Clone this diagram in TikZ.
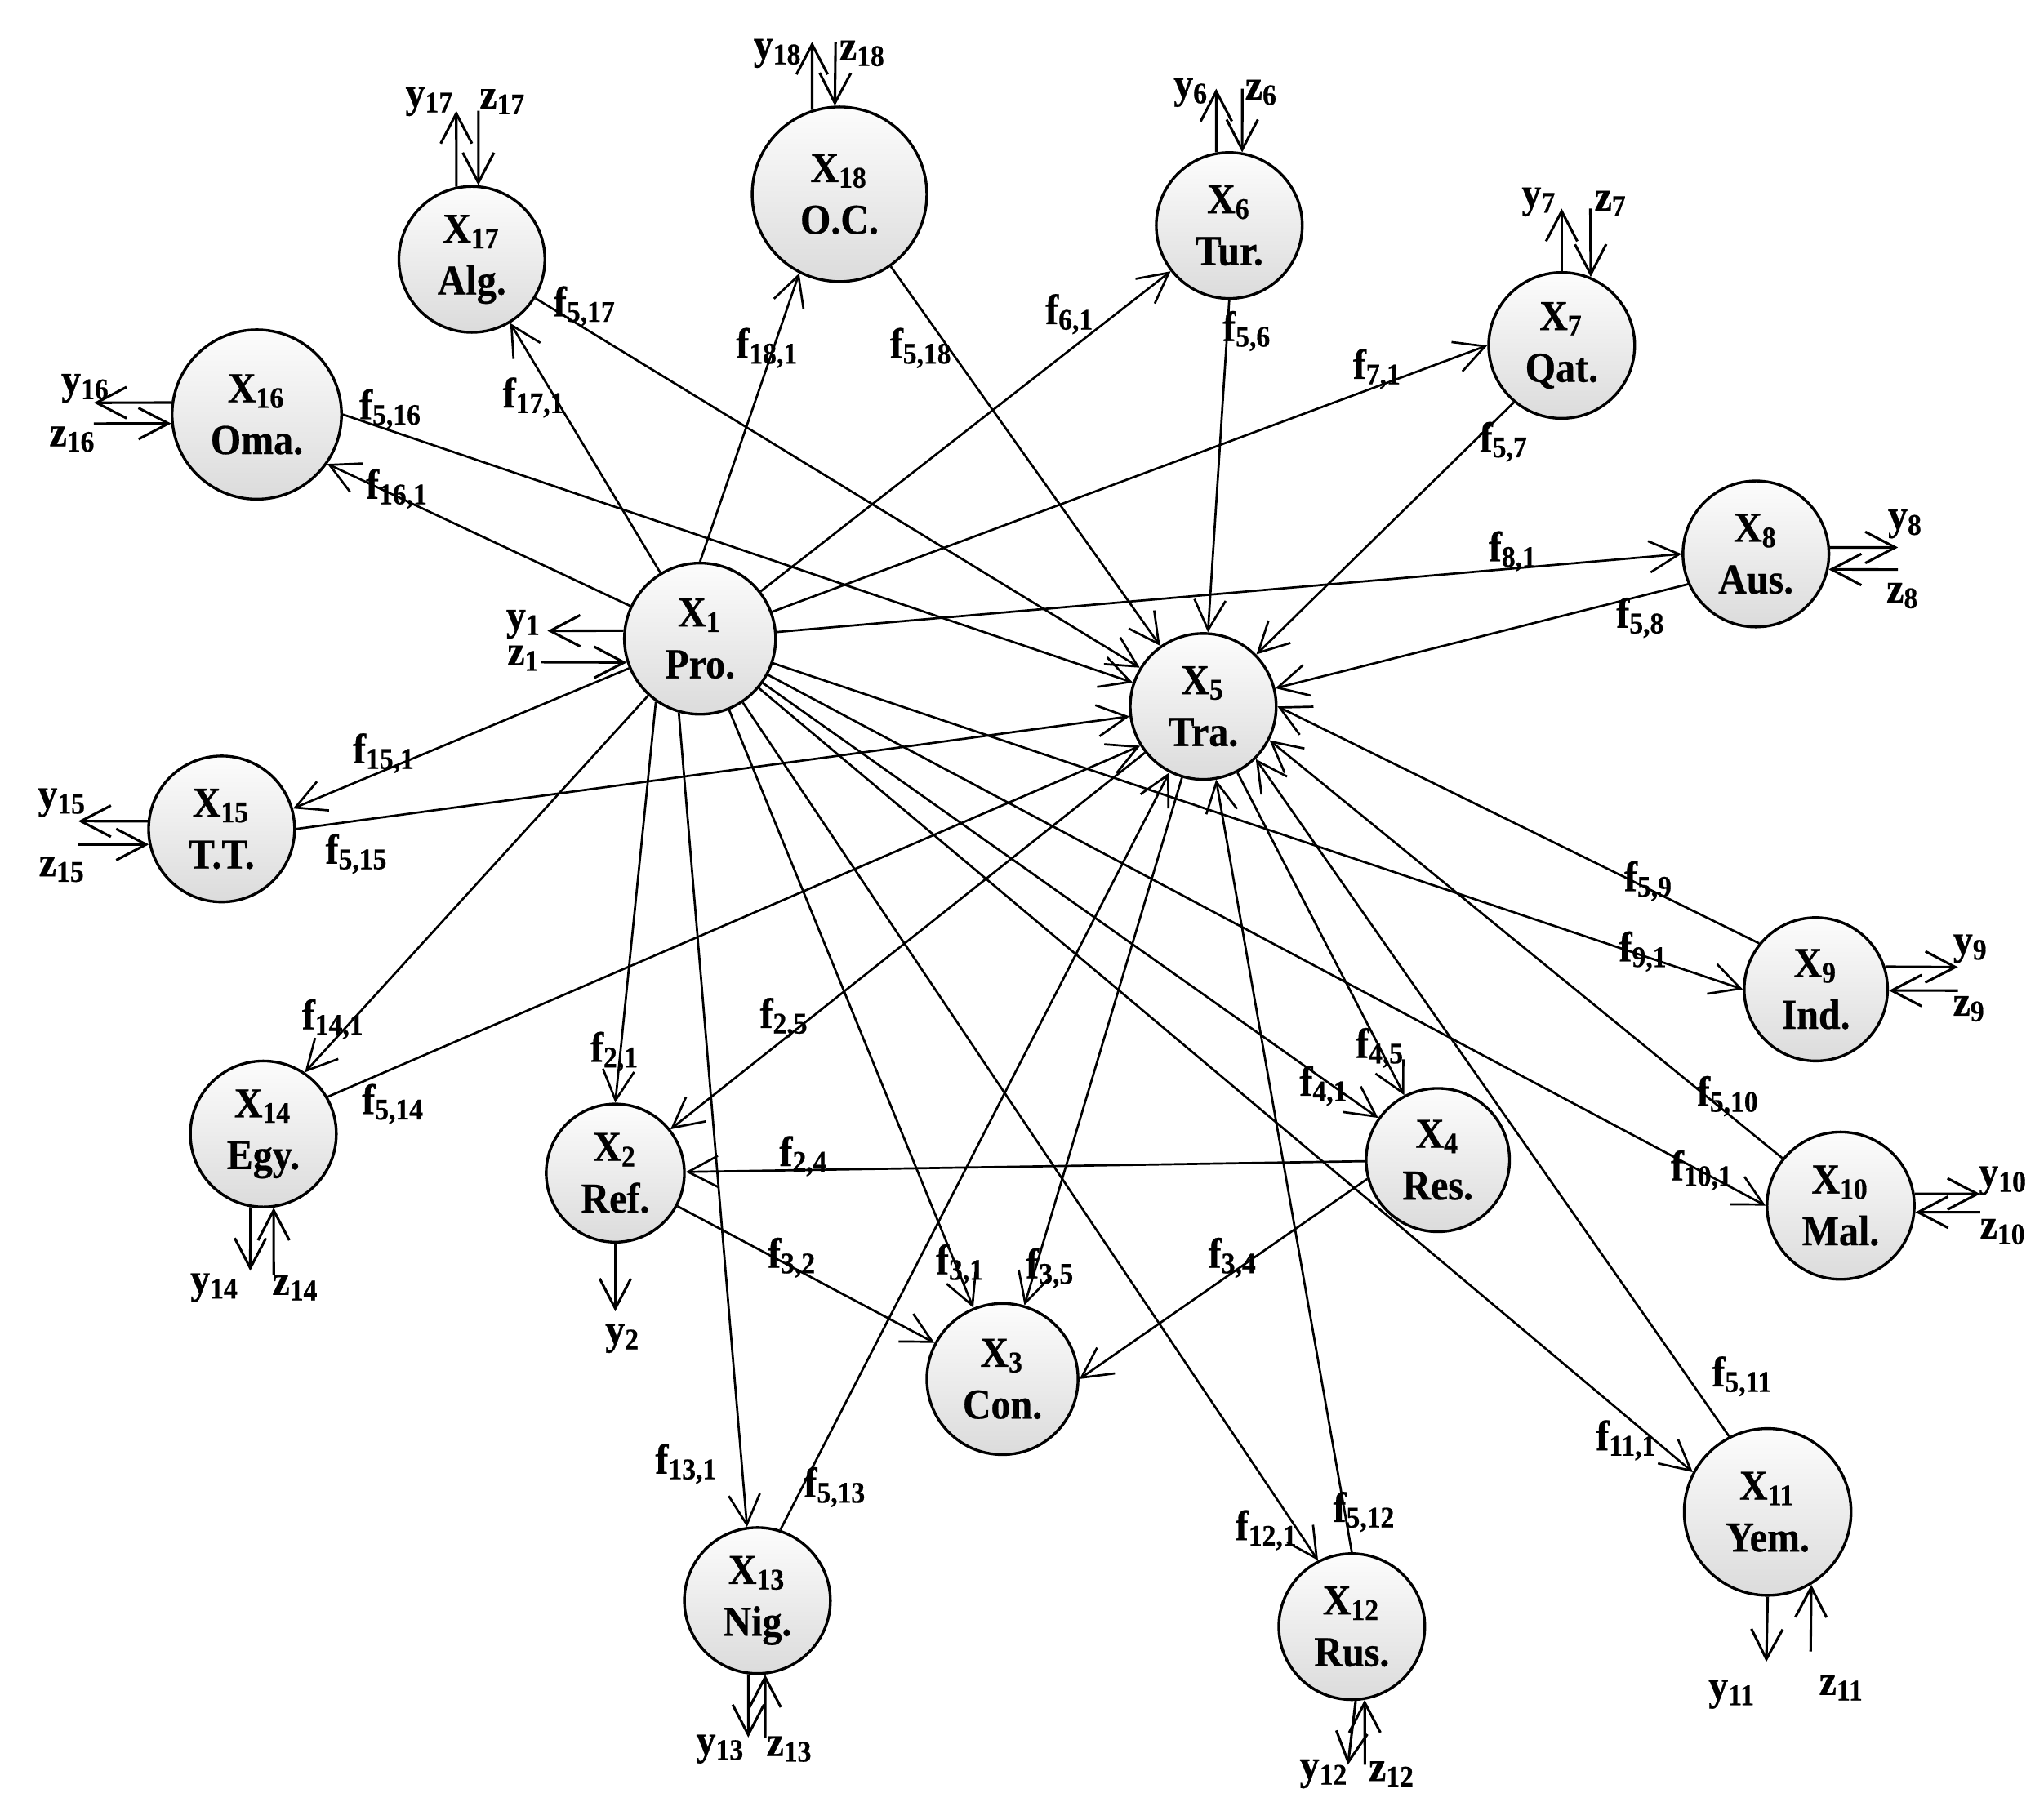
\documentclass[tikz,border=0pt]{standalone}
\usepackage{fontspec}
\setmainfont{Liberation Serif}[FakeStretch=0.92, BoldFeatures={FakeBold=0.5}]
\usetikzlibrary{arrows.meta}
\tikzset{
  cnode/.style={circle, draw, line width=0.6pt, top color=black!1, bottom color=black!14,
    align=center, inner sep=0pt, minimum size=#1,
    font=\fontsize{9.3}{11.3}\selectfont\bfseries},
  edge/.style={line width=0.48pt, -{Straight Barb[length=2.3mm,width=2.4mm]}},
  io/.style={line width=0.55pt, -{Straight Barb[length=2.3mm,width=2.4mm]}},
  lbl/.style={inner sep=0pt, font=\fontsize{9.3}{11}\selectfont\bfseries},
}
\newcommand{\sub}[2]{#1\textsubscript{#2}}
\begin{document}
\begin{tikzpicture}[x=0.1mm, y=-0.1mm]
\useasboundingbox (0,0) rectangle (1568,1389);
% nodes
\node[cnode=11.6mm] (X1) at (537,490) {\sub{X}{1}\\Pro.};
\node[cnode=10.6mm] (X2) at (472,900) {\sub{X}{2}\\Ref.};
\node[cnode=11.6mm] (X3) at (769,1058) {\sub{X}{3}\\Con.};
\node[cnode=11.0mm] (X4) at (1103,890) {\sub{X}{4}\\Res.};
\node[cnode=11.2mm] (X5) at (923,542) {\sub{X}{5}\\Tra.};
\node[cnode=11.2mm] (X6) at (943,173) {\sub{X}{6}\\Tur.};
\node[cnode=11.2mm] (X7) at (1198,265) {\sub{X}{7}\\Qat.};
\node[cnode=11.2mm] (X8) at (1347,425) {\sub{X}{8}\\Aus.};
\node[cnode=11.0mm] (X9) at (1393,759) {\sub{X}{9}\\Ind.};
\node[cnode=11.3mm] (X10) at (1412,925) {\sub{X}{10}\\Mal.};
\node[cnode=12.8mm] (X11) at (1356,1160) {\sub{X}{11}\\Yem.};
\node[cnode=11.2mm] (X12) at (1037,1248) {\sub{X}{12}\\Rus.};
\node[cnode=11.2mm] (X13) at (581,1228) {\sub{X}{13}\\Nig.};
\node[cnode=11.2mm] (X14) at (202,870) {\sub{X}{14}\\Egy.};
\node[cnode=11.2mm] (X15) at (170,636) {\sub{X}{15}\\T.T.};
\node[cnode=13.0mm] (X16) at (197,318) {\sub{X}{16}\\Oma.};
\node[cnode=11.2mm] (X17) at (362,199) {\sub{X}{17}\\Alg.};
\node[cnode=13.4mm] (X18) at (644,149) {\sub{X}{18}\\O.C.};
% edges from X1
\draw[edge] (X1.235) -- (X2.north);
\draw[edge] (X1) -- (X3);
\draw[edge] (X1) -- (X4);
\draw[edge] (X1) -- (X6);
\draw[edge] (X1) -- (X7.west);
\draw[edge] (X1) -- (X8.west);
\draw[edge] (X1) -- (X9.west);
\draw[edge] (X1) -- (X10.west);
\draw[edge] (X1) -- (X11.152);
\draw[edge] (X1) -- (X12.117);
\draw[edge] (X1.254) -- (X13.98);
\draw[edge] (X1) -- (X14.56);
\draw[edge] (X1) -- (X15.16);
\draw[edge] (X1) -- (X16.325);
\draw[edge] (X1) -- (X17);
\draw[edge] (X1.north) -- (X18.243);
% edges into X5
\draw[edge] (X6.south) -- (X5);
\draw[edge] (X7.230) -- (X5);
\draw[edge] (X8.204) -- (X5);
\draw[edge] (X9.141) -- (X5.east);
\draw[edge] (X10) -- (X5.333);
\draw[edge] (X11.117) -- (X5.315);
\draw[edge] (X12.north) -- (X5);
\draw[edge] (X13.72) -- (X5);
\draw[edge] (X14.30) -- (X5.212);
\draw[edge] (X15.east) -- (X5);
\draw[edge] (X16.east) -- (X5);
\draw[edge] (X17) -- (X5);
\draw[edge] (X18) -- (X5);
% other edges
\draw[edge] (X4) -- (X2);
\draw[edge] (X5) -- (X2);
\draw[edge] (X2) -- (X3);
\draw[edge] (X4.195) -- (X3.east);
\draw[edge] (X5) -- (X3);
\draw[edge] (X5) -- (X4);
% inputs / outputs
\coordinate (y1e) at (420,484);   \draw[io] (X1.174) -- (y1e);
\coordinate (z1s) at (415,508);   \draw[io] (z1s) -- (X1.198);
\coordinate (y2e) at (472,1006);  \draw[io] (X2.270) -- (y2e);
\coordinate (y6e) at (933,68);    \draw[io] (X6.100) -- (y6e);
\coordinate (z6s) at (953,68);    \draw[io] (z6s) -- (X6.80);
\coordinate (y7e) at (1198,160);  \draw[io] (X7.90) -- (y7e);
\coordinate (z7s) at (1220,160);  \draw[io] (z7s) -- (X7.67);
\coordinate (y8e) at (1456,420);  \draw[io] (X8.5) -- (y8e);
\coordinate (z8s) at (1456,437);  \draw[io] (z8s) -- (X8.348);
\coordinate (y9e) at (1502,742);  \draw[io] (X9.18) -- (y9e);
\coordinate (z9s) at (1502,760);  \draw[io] (z9s) -- (X9.359);
\coordinate (y10e) at (1519,916); \draw[io] (X10.9) -- (y10e);
\coordinate (z10s) at (1519,930); \draw[io] (z10s) -- (X10.355);
\coordinate (y11e) at (1355,1275);\draw[io] (X11.270) -- (y11e);
\coordinate (z11s) at (1389,1267);\draw[io] (z11s) -- (X11.301);
\coordinate (y12e) at (1034,1354);\draw[io] (X12.273) -- (y12e);
\coordinate (z12s) at (1047,1354);\draw[io] (z12s) -- (X12.280);
\coordinate (y13e) at (574,1333); \draw[io] (X13.263) -- (y13e);
\coordinate (z13s) at (587,1333); \draw[io] (z13s) -- (X13.276);
\coordinate (y14e) at (192,975);  \draw[io] (X14.260) -- (y14e);
\coordinate (z14s) at (210,978);  \draw[io] (z14s) -- (X14.278);
\coordinate (y15e) at (60,630);   \draw[io] (X15.174) -- (y15e);
\coordinate (z15s) at (60,648);   \draw[io] (z15s) -- (X15.192);
\coordinate (y16e) at (72,309);   \draw[io] (X16.172) -- (y16e);
\coordinate (z16s) at (72,325);   \draw[io] (z16s) -- (X16.186);
\coordinate (y17e) at (350,85);   \draw[io] (X17.102) -- (y17e);
\coordinate (z17s) at (367,85);   \draw[io] (z17s) -- (X17.85);
\coordinate (y18e) at (623,32);   \draw[io] (X18.108) -- (y18e);
\coordinate (z18s) at (641,32);   \draw[io] (z18s) -- (X18.93);
% io labels
\node[lbl] (ly1) at (402,479) {\sub{y}{1}};
\node[lbl] (lz1) at (402,505) {\sub{z}{1}};
\node[lbl] (ly2) at (478,1027) {\sub{y}{2}};
\node[lbl] (ly6) at (914,71) {\sub{y}{6}};
\node[lbl] (lz6) at (968,71) {\sub{z}{6}};
\node[lbl] (ly7) at (1181,155) {\sub{y}{7}};
\node[lbl] (lz7) at (1236,156) {\sub{z}{7}};
\node[lbl] (ly8) at (1462,402) {\sub{y}{8}};
\node[lbl] (lz8) at (1460,457) {\sub{z}{8}};
\node[lbl] (ly9) at (1512,728) {\sub{y}{9}};
\node[lbl] (lz9) at (1511,774) {\sub{z}{9}};
\node[lbl] (ly10) at (1537,906) {\sub{y}{10}};
\node[lbl] (lz10) at (1537,945) {\sub{z}{10}};
\node[lbl] (ly11) at (1329,1300) {\sub{y}{11}};
\node[lbl] (lz11) at (1413,1295) {\sub{z}{11}};
\node[lbl] (ly12) at (1016,1361) {\sub{y}{12}};
\node[lbl] (lz12) at (1068,1361) {\sub{z}{12}};
\node[lbl] (ly13) at (553,1342) {\sub{y}{13}};
\node[lbl] (lz13) at (606,1342) {\sub{z}{13}};
\node[lbl] (ly14) at (165,988) {\sub{y}{14}};
\node[lbl] (lz14) at (227,988) {\sub{z}{14}};
\node[lbl] (ly15) at (48,616) {\sub{y}{15}};
\node[lbl] (lz15) at (48,667) {\sub{z}{15}};
\node[lbl] (ly16) at (66,298) {\sub{y}{16}};
\node[lbl] (lz16) at (56,337) {\sub{z}{16}};
\node[lbl] (ly17) at (330,78) {\sub{y}{17}};
\node[lbl] (lz17) at (386,78) {\sub{z}{17}};
\node[lbl] (ly18) at (597,41) {\sub{y}{18}};
\node[lbl] (lz18) at (662,41) {\sub{z}{18}};
% edge labels
\node[lbl] (f517) at (449,235) {\sub{f}{5,17}};
\node[lbl] (f171) at (410,305) {\sub{f}{17,1}};
\node[lbl] (f181) at (589,267) {\sub{f}{18,1}};
\node[lbl] (f518) at (707,267) {\sub{f}{5,18}};
\node[lbl] (f61) at (821,241) {\sub{f}{6,1}};
\node[lbl] (f56) at (957,254) {\sub{f}{5,6}};
\node[lbl] (f71) at (1057,283) {\sub{f}{7,1}};
\node[lbl] (f57) at (1154,339) {\sub{f}{5,7}};
\node[lbl] (f516) at (300,314) {\sub{f}{5,16}};
\node[lbl] (f161) at (305,375) {\sub{f}{16,1}};
\node[lbl] (f81) at (1161,423) {\sub{f}{8,1}};
\node[lbl] (f58) at (1259,474) {\sub{f}{5,8}};
\node[lbl] (f151) at (295,578) {\sub{f}{15,1}};
\node[lbl] (f515) at (274,655) {\sub{f}{5,15}};
\node[lbl] (f59) at (1265,676) {\sub{f}{5,9}};
\node[lbl] (f91) at (1261,730) {\sub{f}{9,1}};
\node[lbl] (f141) at (256,782) {\sub{f}{14,1}};
\node[lbl] (f25) at (602,781) {\sub{f}{2,5}};
\node[lbl] (f21) at (472,807) {\sub{f}{2,1}};
\node[lbl] (f45) at (1059,804) {\sub{f}{4,5}};
\node[lbl] (f41) at (1016,833) {\sub{f}{4,1}};
\node[lbl] (f514) at (302,847) {\sub{f}{5,14}};
\node[lbl] (f510) at (1326,841) {\sub{f}{5,10}};
\node[lbl] (f24) at (617,887) {\sub{f}{2,4}};
\node[lbl] (f101) at (1306,898) {\sub{f}{10,1}};
\node[lbl] (f32) at (608,965) {\sub{f}{3,2}};
\node[lbl] (f31) at (737,970) {\sub{f}{3,1}};
\node[lbl] (f35) at (806,973) {\sub{f}{3,5}};
\node[lbl] (f34) at (946,965) {\sub{f}{3,4}};
\node[lbl] (f511) at (1337,1056) {\sub{f}{5,11}};
\node[lbl] (f111) at (1248,1105) {\sub{f}{11,1}};
\node[lbl] (f131) at (527,1123) {\sub{f}{13,1}};
\node[lbl] (f513) at (641,1141) {\sub{f}{5,13}};
\node[lbl] (f121) at (972,1174) {\sub{f}{12,1}};
\node[lbl] (f512) at (1047,1160) {\sub{f}{5,12}};
\end{tikzpicture}
\end{document}
